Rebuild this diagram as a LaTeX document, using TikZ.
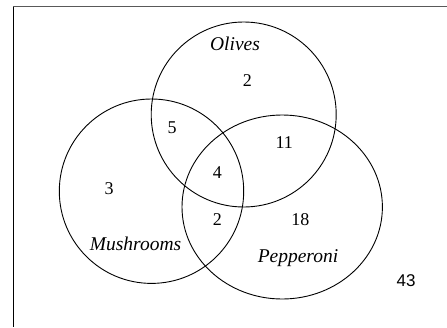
\documentclass[tikz,border=0pt]{standalone}
\usepackage{fontspec}
\setmainfont{Liberation Serif}
\newfontfamily\arialfont{Liberation Sans}
\begin{document}
\begin{tikzpicture}[x=1pt,y=-1pt,
  setline/.style={line width=0.9pt,black},
  lab/.style={font=\fontsize{19.5}{22}\selectfont\itshape,inner sep=0pt},
  num/.style={font=\fontsize{18}{20}\selectfont,inner sep=0pt},
  outnum/.style={font=\arialfont\fontsize{17}{19}\selectfont,inner sep=0pt}]
\useasboundingbox (0,0) rectangle (447,327);
% frame
\draw[gray!70!black,line width=1.5pt] (13,6.5) -- (447,6.5);
\draw[black,line width=1pt] (13,6.5) -- (13,327);
% sets
\draw[setline] (243.7,114.5) circle [radius=92.5pt];
\draw[setline] (151.5,191.2) circle [radius=92.2pt];
\draw[setline] (282.2,207) ellipse [x radius=100.2pt, y radius=92pt];
% labels
\node[lab] (olives) at (235,44) {Olives};
\node[lab] (mush) at (135.5,243.7) {Mushrooms};
\node[lab] (pep) at (298,258.3) {Pepperoni};
% numbers
\node[num] (o) at (247.3,81) {2};
\node[num] (om) at (172,127.7) {5};
\node[num] (op) at (284.3,142.7) {11};
\node[num] (omp) at (217.3,172.7) {4};
\node[num] (m) at (109,188.7) {3};
\node[num] (mp) at (217.3,219.3) {2};
\node[num] (p) at (300.3,219.3) {18};
\node[outnum] (none) at (406,280.7) {43};
\end{tikzpicture}
\end{document}
